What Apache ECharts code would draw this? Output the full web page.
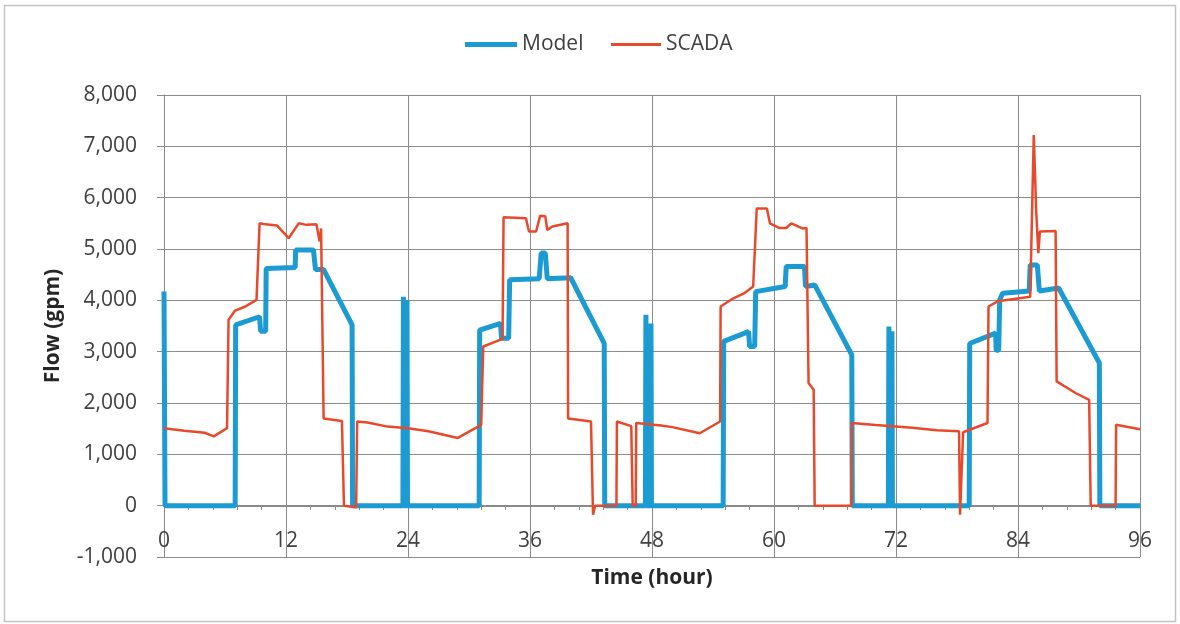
<!DOCTYPE html>
<html>
<head>
<meta charset="utf-8">
<script src="https://cdn.jsdelivr.net/npm/echarts@6/dist/echarts.min.js"></script>
<style>
  html, body { margin: 0; padding: 0; background: #ffffff; }
  #chart { width: 1180px; height: 624px; }
</style>
</head>
<body>
<div id="chart"></div>
<script>
// ---- Data ----
var xTicks = [0, 12, 24, 36, 48, 60, 72, 84, 96];
var yTicks = [-1000, 0, 1000, 2000, 3000, 4000, 5000, 6000, 7000, 8000];

var modelHours = [
  0, 0.1, 7.0, 7.05, 9.4, 9.5, 10.0, 10.05, 12.9, 12.95, 14.7, 14.9, 15.7, 18.5, 18.55,
  23.5, 23.55, 23.6, 23.85, 23.9, 23.95,
  31.0, 31.05, 33.1, 33.2, 33.9, 34.0, 36.9, 37.1, 37.5, 37.7, 40.0, 43.3, 43.35,
  47.35, 47.4, 47.45, 47.85, 47.9, 47.95,
  55.0, 55.05, 57.5, 57.6, 58.1, 58.2, 61.1, 61.2, 63.0, 63.1, 64.0, 67.65, 67.7,
  71.25, 71.3, 71.35, 71.55, 71.6, 71.65,
  79.2, 79.25, 81.8, 81.85, 82.1, 82.2, 82.5, 85.1, 85.2, 85.9, 86.1, 88.0, 92.0, 92.05, 96
];
var modelFlow = [
  4170, 0, 0, 3520, 3680, 3400, 3400, 4620, 4640, 4980, 4980, 4600, 4600, 3520, 0,
  0, 4070, 0, 0, 4000, 0,
  0, 3420, 3550, 3260, 3260, 4400, 4420, 4920, 4920, 4420, 4440, 3160, 0,
  0, 3720, 0, 0, 3550, 0,
  0, 3200, 3390, 3100, 3100, 4170, 4270, 4660, 4660, 4270, 4300, 2940, 0,
  0, 3490, 0, 0, 3400, 0,
  0, 3160, 3360, 3030, 3030, 4010, 4140, 4180, 4690, 4690, 4180, 4240, 2780, 0, 0
];

var scadaHours = [
  0, 2, 4, 4.9, 6.2, 6.35, 7.0, 8, 9.1, 9.4, 10, 11.1, 12.26, 13.25, 14, 15.0, 15.3, 15.45, 15.7, 17.5, 17.7, 18.9, 19.0, 20, 22, 24,
  26, 28.9, 31.2, 31.4, 33.3, 33.4, 35.6, 35.9, 36.6, 37.0, 37.5, 37.7, 38.2, 39.7, 39.75, 42.0, 42.2, 42.4, 44.5, 44.55, 45.96, 46.1, 46.4, 46.45, 48.9,
  50, 52.7, 54.7, 54.75, 56, 57, 57.95, 58.3, 59.3, 59.6, 60.5, 61.2, 61.7, 62.8, 63.2, 63.4, 63.9, 64.0, 67.6, 67.65, 70, 73.6,
  76, 78.2, 78.3, 78.6, 81.0, 81.1, 82.0, 85.2, 85.55, 85.8, 86.0, 86.15, 87.7, 87.8, 89.7, 91.0, 91.15, 93.6, 93.65, 96
];
var scadaFlow = [
  1510, 1460, 1420, 1350, 1510, 3620, 3800, 3880, 4010, 5500, 5480, 5460, 5210, 5500, 5470, 5480, 5150, 5400, 1700, 1650, 0, -30, 1640, 1620, 1540, 1510,
  1450, 1320, 1575, 3100, 3250, 5620, 5600, 5340, 5340, 5650, 5640, 5370, 5440, 5500, 1700, 1640, -175, 0, 0, 1640, 1550, 0, 0, 1610, 1560,
  1530, 1410, 1640, 3880, 4040, 4130, 4270, 5790, 5790, 5500, 5410, 5410, 5500, 5400, 5410, 2390, 2260, 0, 0, 1610, 1570, 1520,
  1470, 1450, -175, 1430, 1610, 3880, 3980, 4070, 7220, 5700, 4920, 5340, 5350, 2420, 2190, 2060, 0, 0, 1575, 1490
];

function zip(xs, ys) {
  var out = [];
  for (var i = 0; i < xs.length; i++) out.push([xs[i], ys[i]]);
  return out;
}

var chart = echarts.init(document.getElementById('chart'), null, { renderer: 'canvas' });
var font = '"Open Sans", "Noto Sans", sans-serif';
var blue = '#1b9bd1';
var red = '#e8492a';

var legendText = { fontFamily: font, fontSize: 21, color: '#404040' };

var option = {
  animation: false,
  backgroundColor: '#ffffff',
  textStyle: { fontFamily: font },
  graphic: [{
    type: 'rect',
    shape: { x: 4.5, y: 5.5, width: 1171, height: 616 },
    style: { fill: 'none', stroke: '#c4c4c4', lineWidth: 1.5 },
    silent: true
  }],
  legend: [
    {
      left: 460, top: 29, icon: 'rect', itemWidth: 52, itemHeight: 5,
      textStyle: legendText, data: ['Model']
    },
    {
      left: 606, top: 29, icon: 'rect', itemWidth: 50, itemHeight: 3,
      textStyle: legendText, data: ['SCADA']
    }
  ],
  grid: { left: 164, right: 40, top: 95, bottom: 67, containLabel: false, outerBoundsMode: 'none' },
  xAxis: {
    type: 'value',
    min: xTicks[0],
    max: xTicks[xTicks.length - 1],
    interval: 12,
    offset: -51,
    name: 'Time (hour)',
    nameLocation: 'middle',
    nameGap: 62,
    nameTextStyle: { fontFamily: font, fontSize: 21, fontWeight: 'bold', color: '#262626' },
    axisLine: { show: true, onZero: false, lineStyle: { color: '#888888', width: 1 } },
    axisTick: { show: true, length: 5, lineStyle: { color: '#888888' } },
    minorTick: { show: true, splitNumber: 5, length: 4, lineStyle: { color: '#888888' } },
    axisLabel: { fontFamily: font, fontSize: 21, color: '#404040', margin: 25 },
    splitLine: { show: true, lineStyle: { color: '#8c8c8c', width: 1 } }
  },
  yAxis: {
    type: 'value',
    min: yTicks[0],
    max: yTicks[yTicks.length - 1],
    interval: 1000,
    name: 'Flow (gpm)',
    nameLocation: 'middle',
    nameGap: 100,
    nameTextStyle: { fontFamily: font, fontSize: 21, fontWeight: 'bold', color: '#262626' },
    axisLine: { show: true, onZero: false, lineStyle: { color: '#888888', width: 1 } },
    axisTick: { show: true, length: 7, lineStyle: { color: '#888888' } },
    axisLabel: {
      fontFamily: font, fontSize: 21, color: '#404040', margin: 27,
      formatter: function (v) { return v.toLocaleString('en-US'); }
    },
    splitLine: { show: true, lineStyle: { color: '#8c8c8c', width: 1 } }
  },
  series: [
    {
      name: 'Model',
      type: 'line',
      data: zip(modelHours, modelFlow),
      showSymbol: false,
      symbol: 'none',
      lineStyle: { color: blue, width: 5 },
      itemStyle: { color: blue },
      z: 2
    },
    {
      name: 'SCADA',
      type: 'line',
      data: zip(scadaHours, scadaFlow),
      showSymbol: false,
      symbol: 'none',
      lineStyle: { color: red, width: 2.5 },
      itemStyle: { color: red },
      z: 3
    }
  ]
};
chart.setOption(option);
</script>
</body>
</html>
